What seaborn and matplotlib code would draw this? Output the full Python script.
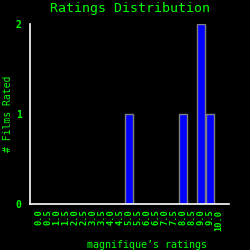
import matplotlib
matplotlib.use("Agg")
import matplotlib.pyplot as plt
import seaborn as sns
import pandas as pd

ratings = ["0.0", "0.5", "1.0", "1.5", "2.0", "2.5", "3.0", "3.5", "4.0", "4.5", "5.0",
           "5.5", "6.0", "6.5", "7.0", "7.5", "8.0", "8.5", "9.0", "9.5", "10.0"]
counts = [0, 0, 0, 0, 0, 0, 0, 0, 0, 0, 1, 0, 0, 0, 0, 0, 1, 0, 2, 1, 0]
yticks = [0, 1, 2]

df = pd.DataFrame({"rating": ratings, "count": counts})

sns.set_style("dark")
plt.rcParams['font.family'] = ['DejaVu Sans Mono']

green = "#00ff00"
fig = plt.figure(figsize=(2.5, 2.5), dpi=100, facecolor="black")
ax = fig.add_axes([0.12, 0.184, 0.796, 0.72])
ax.set_facecolor("black")

sns.barplot(data=df, x="rating", y="count", order=ratings, color="#0000ff",
            edgecolor="#808080", linewidth=1, width=0.92, saturation=1, ax=ax)

ax.set_xlim(-1, 21.1)
ax.set_ylim(0, 2)
ax.set_yticks(yticks)
ax.grid(False)
for s in ["top", "right"]:
    ax.spines[s].set_visible(False)
for s in ["left", "bottom"]:
    ax.spines[s].set_color("white")
    ax.spines[s].set_linewidth(1.2)

ax.tick_params(axis="x", direction="in", length=4, width=1, color="white",
               labelcolor=green, labelsize=6.3, pad=4, labelrotation=90)
ax.tick_params(axis="y", direction="in", length=3, width=1, color="white",
               labelcolor=green, labelsize=7, pad=6)
for lab in ax.get_xticklabels() + ax.get_yticklabels():
    lab.set_fontweight("bold")

ax.set_title("Ratings Distribution", color=green, fontsize=9.5, pad=9)
ax.set_xlabel("magnifique\u2019s ratings", color=green, fontsize=7.2)
ax.set_ylabel("# Films Rated", color=green, fontsize=7)
ax.xaxis.set_label_coords(0.59, -0.2)
ax.yaxis.set_label_coords(-0.085, 0.5)

fig.savefig("out.png", dpi=100, facecolor="black")
